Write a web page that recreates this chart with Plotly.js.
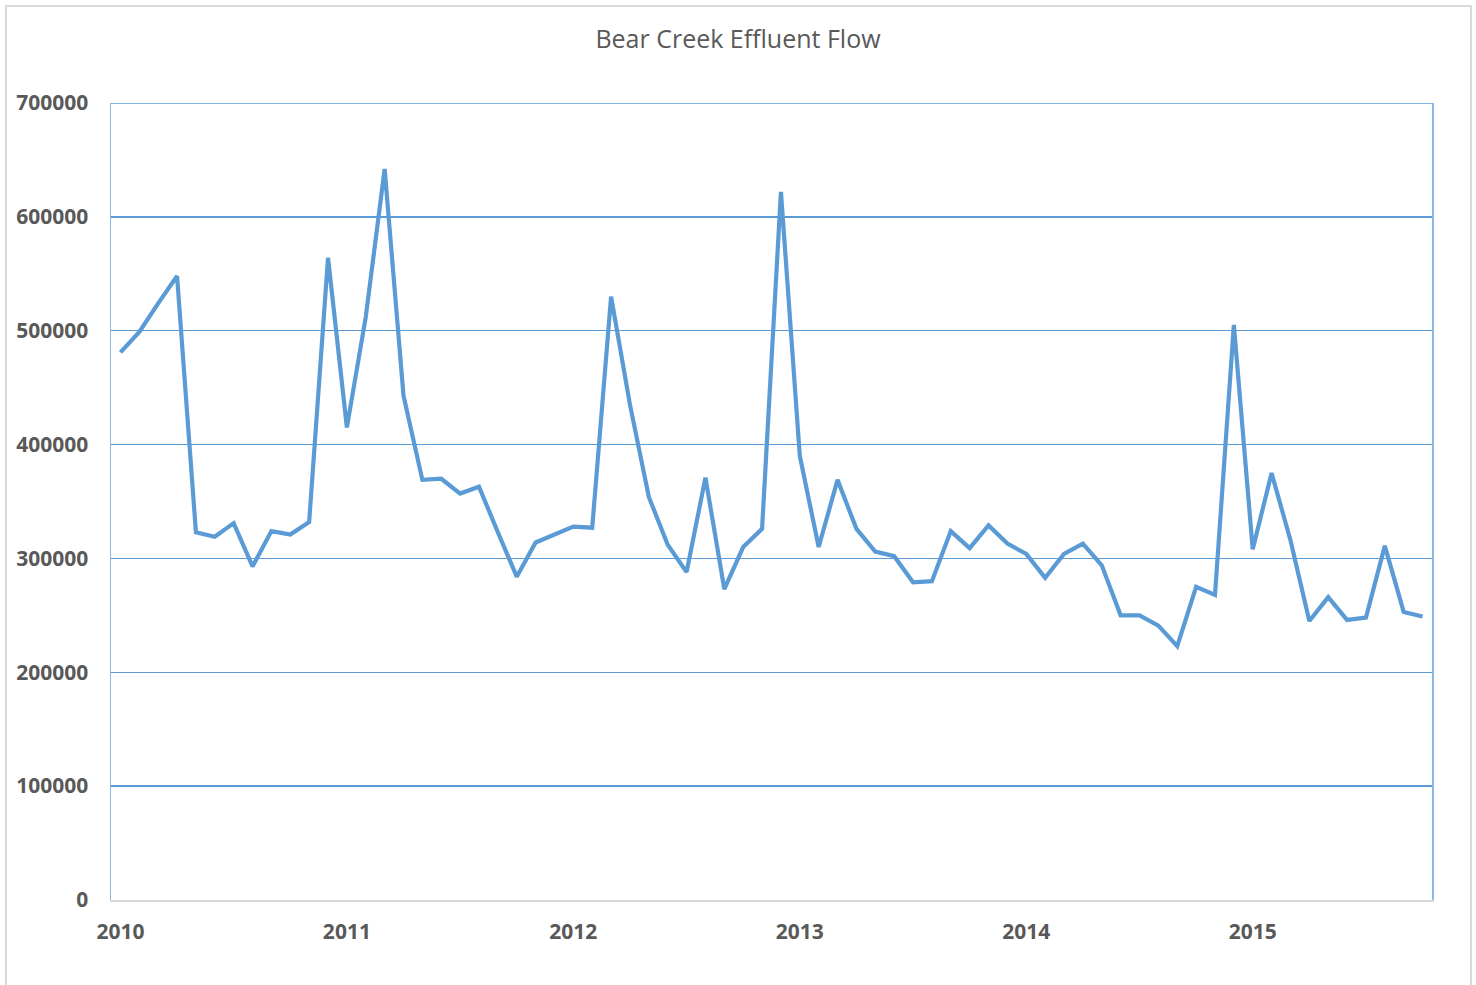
<!DOCTYPE html>
<html>
<head>
<meta charset="utf-8">
<script src="https://cdn.plot.ly/plotly-3.0.1.min.js"></script>
<style>
  html, body { margin: 0; padding: 0; background: #ffffff; }
  #wrap { position: relative; width: 1476px; height: 985px; overflow: hidden; }
  #chart { position: absolute; left: 0; top: 0; width: 1476px; height: 985px; }
  #frame { position: absolute; left: 5px; top: 5px; width: 1463px; height: 1000px;
           border: 2px solid #d9d9d9; pointer-events: none; }
</style>
</head>
<body>
<div id="wrap">
  <div id="chart"></div>
  <div id="frame"></div>
</div>
<script>
// Monthly periods, Jan 2010 – Oct 2015
const months = [
  "2010-01","2010-02","2010-03","2010-04","2010-05","2010-06","2010-07","2010-08","2010-09","2010-10","2010-11","2010-12",
  "2011-01","2011-02","2011-03","2011-04","2011-05","2011-06","2011-07","2011-08","2011-09","2011-10","2011-11","2011-12",
  "2012-01","2012-02","2012-03","2012-04","2012-05","2012-06","2012-07","2012-08","2012-09","2012-10","2012-11","2012-12",
  "2013-01","2013-02","2013-03","2013-04","2013-05","2013-06","2013-07","2013-08","2013-09","2013-10","2013-11","2013-12",
  "2014-01","2014-02","2014-03","2014-04","2014-05","2014-06","2014-07","2014-08","2014-09","2014-10","2014-11","2014-12",
  "2015-01","2015-02","2015-03","2015-04","2015-05","2015-06","2015-07","2015-08","2015-09","2015-10"
];

// Effluent flow values
const flow = [
  481000, 499000, 524000, 548000, 323000, 319000, 331000, 293000, 324000, 321000, 332000, 564000,
  415000, 512000, 642000, 443000, 369000, 370000, 357000, 363000, 323000, 284000, 314000, 321000,
  328000, 327000, 530000, 435000, 354000, 312000, 288000, 371000, 273000, 310000, 326000, 622000,
  390000, 310000, 369000, 326000, 306000, 302000, 279000, 280000, 324000, 309000, 329000, 313000,
  304000, 283000, 304000, 313000, 294000, 250000, 250000, 241000, 223000, 275000, 268000, 505000,
  308000, 375000, 316000, 245000, 266000, 246000, 248000, 311000, 253000, 249000
];

const yearTickMonths = ["2010-01","2011-01","2012-01","2013-01","2014-01","2015-01"];
const yearTickLabels = ["2010","2011","2012","2013","2014","2015"];
const yTickVals = [0, 100000, 200000, 300000, 400000, 500000, 600000, 700000];

const chartTitle = "Bear Creek Effluent Flow";

const yMax = yTickVals[yTickVals.length - 1];

const trace = {
  type: "scatter",
  mode: "lines",
  x: months,
  y: flow,
  line: { color: "#5B9BD5", width: 4.2, shape: "linear" },
  hoverinfo: "x+y"
};

const layout = {
  width: 1476,
  height: 985,
  margin: { l: 111, r: 44, t: 103, b: 85, pad: 0 },
  paper_bgcolor: "#ffffff",
  plot_bgcolor: "#ffffff",
  showlegend: false,
  font: { family: "Open Sans, sans-serif", color: "#595959" },
  title: {
    text: chartTitle,
    font: { family: "Open Sans, sans-serif", size: 25, color: "#595959" },
    x: 0.5, xanchor: "center",
    y: 1 - 39 / 985, yanchor: "middle",
    yref: "container"
  },
  xaxis: {
    type: "category",
    categoryorder: "array",
    categoryarray: months,
    range: [-0.5, months.length - 0.5],
    tickmode: "array",
    tickvals: yearTickMonths,
    ticktext: yearTickLabels,
    ticks: "",
    showgrid: false,
    zeroline: false,
    showline: true,
    linecolor: "#d9d9d9",
    linewidth: 2,
    ticklabelstandoff: 12,
    tickfont: { family: "Open Sans, sans-serif", size: 21, color: "#595959", weight: "bold" }
  },
  yaxis: {
    range: [0, yMax],
    tickmode: "array",
    tickvals: yTickVals,
    ticktext: yTickVals.map(v => String(v)),
    ticks: "",
    showgrid: true,
    gridcolor: "#5B9BD5",
    gridwidth: 1.4,
    zeroline: false,
    showline: true,
    mirror: true,
    linecolor: "#8cb8e2",
    linewidth: 1.5,
    ticklabelstandoff: 17,
    tickfont: { family: "Open Sans, sans-serif", size: 21, color: "#595959", weight: "bold" }
  },
  shapes: [
    // top gridline at the axis maximum (Plotly drops the gridline at the range edge)
    { type: "line", xref: "paper", x0: 0, x1: 1, yref: "y", y0: yMax, y1: yMax,
      line: { color: "#5B9BD5", width: 1.4 }, layer: "below" }
  ]
};

Plotly.newPlot("chart", [trace], layout, { displayModeBar: false, staticPlot: true });
</script>
</body>
</html>
